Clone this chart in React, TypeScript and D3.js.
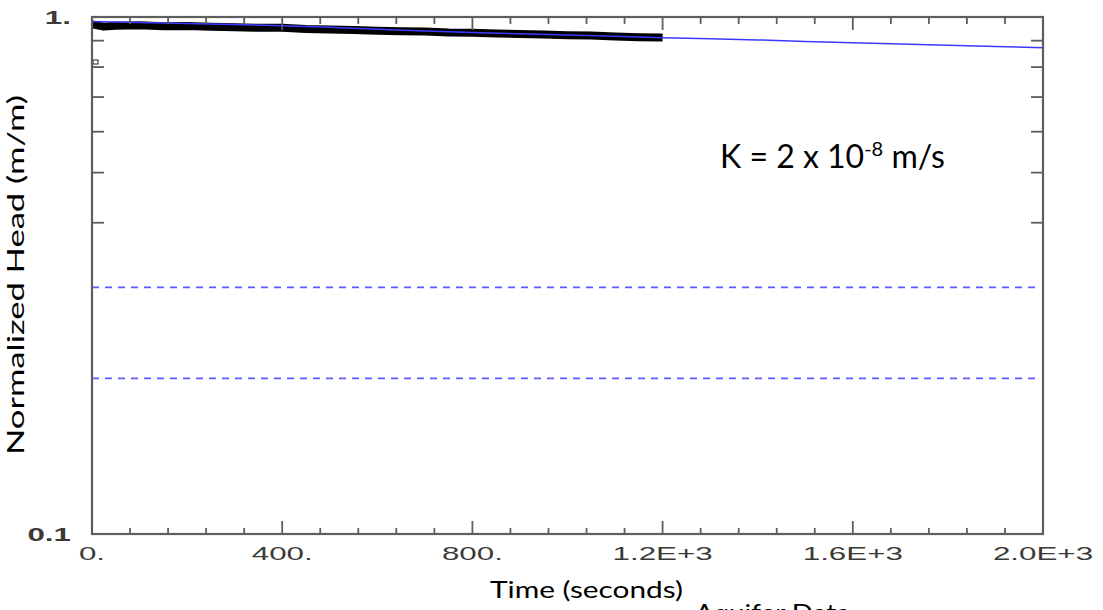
import React from "react";
import * as d3 from "d3";

const W = 1103;
const H = 610;

// x axis ticks
const xMajorTicks = [0, 400, 800, 1200, 1600, 2000];
const xTickLabels = ["0.", "400.", "800.", "1.2E+3", "1.6E+3", "2.0E+3"];
const xMinorStep = 80;

// y axis (log)
const yMajorTicks = [0.1, 1];
const yTickLabels = ["0.1", "1."];
const yMinorTicks = [0.4, 0.5, 0.6, 0.7, 0.8, 0.9];

// dashed reference lines
const refLines = [0.3, 0.2];

// model (blue line)
const modelT = [0, 100, 200, 300, 400, 500, 600, 700, 800, 900, 1000, 1100, 1200, 1300, 1400, 1500, 1600, 1700, 1800, 1900, 2000];
const modelH = [0.98, 0.976, 0.972, 0.967, 0.962, 0.955, 0.947, 0.94, 0.933, 0.928, 0.923, 0.918, 0.912, 0.908, 0.903, 0.897, 0.892, 0.887, 0.882, 0.877, 0.872];

// observed data (black)
const obsT = [0, 25, 50, 100, 150, 200, 250, 300, 350, 400, 450, 500, 550, 600, 650, 700, 750, 800, 850, 900, 950, 1000, 1050, 1100, 1150, 1200];
const obsH = [0.968, 0.958, 0.962, 0.964, 0.96, 0.961, 0.957, 0.955, 0.953, 0.953, 0.948, 0.946, 0.944, 0.941, 0.939, 0.937, 0.933, 0.932, 0.929, 0.927, 0.925, 0.922, 0.921, 0.917, 0.914, 0.913];

export default function App() {
  const L = 92, R = 1043, T = 17, B = 534;
  const x = d3.scaleLinear().domain([0, 2000]).range([L, R]);
  const y = d3.scaleLog().domain([0.1, 1]).range([B, T]);

  const line = d3
    .line<[number, number]>()
    .x((d) => x(d[0]))
    .y((d) => y(d[1]));

  const model = line(modelT.map((t, i) => [t, modelH[i]] as [number, number])) || "";
  const obs = line(obsT.map((t, i) => [t, obsH[i]] as [number, number])) || "";

  const minorX = d3.range(0, 2000 + 1, xMinorStep).filter((v) => v % 400 !== 0);

  const axisColor = "#5e5e5e";
  const labelColor = "#3d3a36";
  const sx = 1.65;

  return (
    <svg width={W} height={H} style={{ position: "absolute", left: 0, top: 0, display: "block", background: "#fff" }}>
      {/* dashed reference lines */}
      {refLines.map((v) => (
        <line key={v} x1={L} x2={1036} y1={y(v)} y2={y(v)} stroke="#5a5aff" strokeWidth={1.6} strokeDasharray="7 6" />
      ))}

      {/* observed data */}
      <path d={obs} fill="none" stroke="#000" strokeWidth={8} strokeLinejoin="round" strokeLinecap="butt" />
      {/* model */}
      <path d={model} fill="none" stroke="#3a3aff" strokeWidth={1.5} />

      {/* tiny marker */}
      <rect x={93} y={60} width={5} height={4} fill="none" stroke="#222" strokeWidth={1} />

      {/* frame */}
      <rect x={L} y={T} width={R - L} height={B - T} fill="none" stroke={axisColor} strokeWidth={2.2} />

      {/* x ticks */}
      {xMajorTicks.map((v) => (
        <g key={"xm" + v}>
          <line x1={x(v)} x2={x(v)} y1={B} y2={B - 13} stroke={axisColor} strokeWidth={1.8} />
          <line x1={x(v)} x2={x(v)} y1={T} y2={T + 13} stroke={axisColor} strokeWidth={1.8} />
        </g>
      ))}
      {minorX.map((v) => (
        <g key={"xn" + v}>
          <line x1={x(v)} x2={x(v)} y1={B} y2={B - 6} stroke={axisColor} strokeWidth={1.8} />
          <line x1={x(v)} x2={x(v)} y1={T} y2={T + 7} stroke={axisColor} strokeWidth={1.8} />
        </g>
      ))}

      {/* y ticks */}
      {yMinorTicks.map((v) => (
        <g key={"yn" + v}>
          <line x1={L} x2={L + 12} y1={y(v)} y2={y(v)} stroke={axisColor} strokeWidth={1.8} />
          <line x1={R} x2={R - 12} y1={y(v)} y2={y(v)} stroke={axisColor} strokeWidth={1.8} />
        </g>
      ))}

      {/* x tick labels */}
      {xMajorTicks.map((v, i) => (
        <g key={"xl" + v} transform={`translate(${x(v)},560) scale(${sx},1)`}>
          <text textAnchor="middle" fontFamily="Liberation Sans, Arial, sans-serif" fontSize={19} fill={labelColor}>
            {xTickLabels[i]}
          </text>
        </g>
      ))}

      {/* y tick labels */}
      {yMajorTicks.map((v, i) => (
        <g key={"yl" + v} transform={`translate(71,${y(v) + 7}) scale(${sx},1)`}>
          <text textAnchor="end" fontFamily="Liberation Sans, Arial, sans-serif" fontSize={19} fontWeight="bold" fill={labelColor}>
            {yTickLabels[i]}
          </text>
        </g>
      ))}

      {/* axis titles */}
      <text x={490} y={598} fontFamily="Lato, 'Open Sans', sans-serif" fontSize={24} fill="#000" textLength={193} lengthAdjust="spacingAndGlyphs">
        Time (seconds)
      </text>
      <text x={695} y={621} fontFamily="Lato, 'Open Sans', sans-serif" fontSize={24} fill="#000" textLength={155} lengthAdjust="spacingAndGlyphs">
        Aquifer Data
      </text>
      <text
        transform="translate(24,455) rotate(-90)"
        fontFamily="Lato, 'Open Sans', sans-serif"
        fontSize={23}
        fill="#000"
        textLength={360}
        lengthAdjust="spacingAndGlyphs"
      >
        Normalized Head (m/m)
      </text>

      {/* annotation */}
      <text x={720} y={168} fontFamily="Lato, 'Open Sans', sans-serif" fontSize={32} fill="#000">
        K = 2 x 10
        <tspan dy={-12} fontSize={20}>-8</tspan>
        <tspan dy={12}> m/s</tspan>
      </text>
    </svg>
  );
}
